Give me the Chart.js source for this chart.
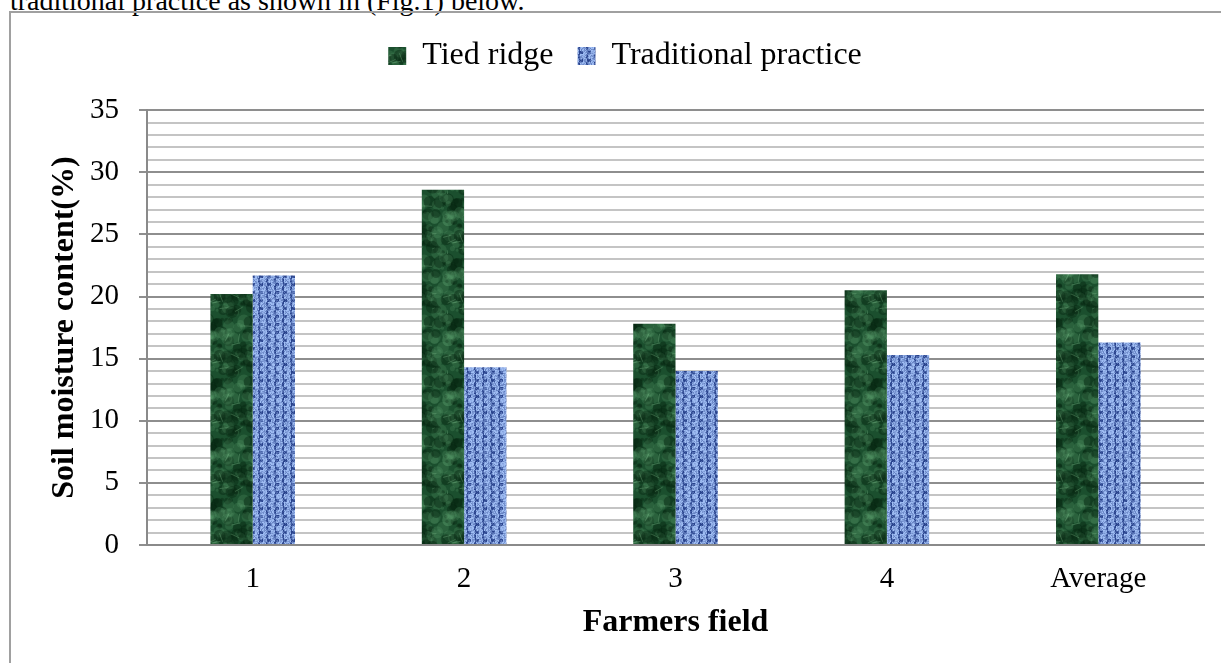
<!DOCTYPE html>
<html lang="en">
<head>
    <meta charset="UTF-8">
    <title>Soil moisture content</title>
    <script src="https://cdn.jsdelivr.net/npm/chart.js"></script>
    <style>
        body {
            margin: 0;
            background: #fff;
            overflow: hidden;
            font-family: "Liberation Serif", "Times New Roman", serif;
        }
        .lead {
            position: absolute;
            left: 10px;
            top: -13px;
            font-size: 28px;
            line-height: 28px;
            white-space: nowrap;
            color: #000;
        }
        .frame {
            position: absolute;
            left: 9px;
            top: 11px;
            width: 1212px;
            height: 652px;
            border-left: 2px solid #a0a0a0;
            border-top: 2px solid #a0a0a0;
        }
        .box {
            position: absolute;
            left: 12px;
            top: 14px;
            width: 1209px;
            height: 649px;
        }
    </style>
</head>
<body>
    <div class="lead">traditional practice as shown in (Fig.1) below.</div>
    <div class="frame"></div>
    <div class="box"><canvas id="moistureChart"></canvas></div>

    <script>
        const fields = ['1', '2', '3', '4', 'Average'];
        const tiedRidge = [20.2, 28.6, 17.8, 20.5, 21.8];
        const traditional = [21.7, 14.3, 14.0, 15.3, 16.3];
        const yTicks = [0, 5, 10, 15, 20, 25, 30, 35];

        // fixed noise for the bar textures
        function hash(n) {
            const s = Math.sin(n * 12.9898 + 78.233) * 43758.5453;
            return s - Math.floor(s);
        }

        function greenTexture(ctx) {
            const size = 60;
            const c = document.createElement('canvas');
            c.width = size; c.height = size;
            const g = c.getContext('2d');
            g.fillStyle = '#1b4f2e';
            g.fillRect(0, 0, size, size);
            for (let i = 0; i < 110; i++) {
                const x = hash(i) * size, y = hash(i + 300) * size;
                const r = 1.5 + hash(i + 600) * 5;
                const light = hash(i + 900) > 0.5;
                g.fillStyle = light ? 'rgba(95,165,115,0.22)' : 'rgba(4,36,14,0.4)';
                for (const dx of [-size, 0, size]) {
                    for (const dy of [-size, 0, size]) {
                        g.beginPath();
                        g.arc(x + dx, y + dy, r, 0, Math.PI * 2);
                        g.fill();
                    }
                }
            }
            g.strokeStyle = 'rgba(140,200,150,0.3)';
            g.lineWidth = 1;
            for (let i = 0; i < 14; i++) {
                const x = hash(i + 1200) * size, y = hash(i + 1500) * size;
                const a = hash(i + 1800) * Math.PI;
                g.beginPath();
                g.moveTo(x, y);
                g.lineTo(x + Math.cos(a) * 9, y + Math.sin(a) * 9);
                g.stroke();
            }
            return ctx.createPattern(c, 'repeat');
        }

        function blueTexture(ctx) {
            const size = 32;
            const c = document.createElement('canvas');
            c.width = size; c.height = size;
            const g = c.getContext('2d');
            const img = g.createImageData(size, size);
            for (let y = 0; y < size; y++) {
                for (let x = 0; x < size; x++) {
                    const cx = x % 8, cy = y % 8;
                    const weave = (cx < 6 && cy < 5) || (cx >= 3 && cy >= 4 && cx < 7);
                    const n = hash(x * 31 + y * 17 + 5);
                    let t = weave ? 0.8 : 0.2;
                    t = Math.min(1, Math.max(0, t + (n - 0.5) * 0.6));
                    const i = (y * size + x) * 4;
                    img.data[i] = 40 + t * (160 - 40);
                    img.data[i + 1] = 66 + t * (190 - 66);
                    img.data[i + 2] = 140 + t * (244 - 140);
                    img.data[i + 3] = 255;
                }
            }
            g.putImageData(img, 0, 0);
            return ctx.createPattern(c, 'repeat');
        }

        const serif = '"Liberation Serif", "Times New Roman", serif';
        const canvas = document.getElementById('moistureChart');
        const ctx = canvas.getContext('2d');

        new Chart(ctx, {
            type: 'bar',
            data: {
                labels: fields,
                datasets: [{
                    label: 'Tied ridge',
                    data: tiedRidge,
                    backgroundColor: greenTexture(ctx),
                    borderWidth: 0,
                }, {
                    label: 'Traditional practice',
                    data: traditional,
                    backgroundColor: blueTexture(ctx),
                    borderWidth: 0,
                }],
            },
            options: {
                responsive: true,
                maintainAspectRatio: false,
                animation: false,
                categoryPercentage: 0.4,
                barPercentage: 1.0,
                layout: { padding: { top: 2, right: 17, left: 34, bottom: 0 } },
                plugins: {
                    tooltip: { enabled: false },
                    legend: {
                        position: 'top',
                        labels: {
                            boxWidth: 18,
                            boxHeight: 18,
                            padding: 24,
                            color: '#000',
                            font: { family: serif, size: 32 },
                        },
                    },
                    // empty spacer between legend and plot
                    subtitle: {
                        display: true,
                        text: '',
                        position: 'top',
                        weight: 500,
                        font: { size: 1 },
                        padding: { top: 27, bottom: 0 },
                    },
                },
                scales: {
                    x: {
                        afterFit: (scale) => { scale.height = 118; },
                        grid: { display: false },
                        border: { display: true, color: '#8a8a8a', width: 2 },
                        ticks: {
                            color: '#000',
                            padding: 9,
                            font: { family: serif, size: 29 },
                        },
                        title: {
                            display: true,
                            text: 'Farmers field',
                            color: '#000',
                            padding: { top: 0, bottom: 21 },
                            font: { family: serif, size: 32, weight: 'bold' },
                        },
                    },
                    y: {
                        min: 0,
                        max: 35,
                        afterFit: (scale) => { scale.width = 101; },
                        afterBuildTicks: (scale) => {
                            const all = [];
                            for (let v = yTicks[0]; v <= yTicks[yTicks.length - 1]; v++) all.push({ value: v });
                            scale.ticks = all;
                        },
                        grid: {
                            color: (c) => (yTicks.includes(c.tick.value) ? '#8e8e8e' : '#c4c4c4'),
                            tickColor: (c) => (yTicks.includes(c.tick.value) ? '#8e8e8e' : 'rgba(0,0,0,0)'),
                            lineWidth: 2,
                            tickLength: 8,
                        },
                        border: { display: true, color: '#8a8a8a', width: 2 },
                        ticks: {
                            color: '#000',
                            padding: 20,
                            autoSkip: false,
                            font: { family: serif, size: 29 },
                            callback: (v) => (yTicks.includes(v) ? String(v) : ''),
                        },
                        title: {
                            display: true,
                            text: 'Soil moisture content(%)',
                            color: '#000',
                            padding: { top: 0, bottom: 0 },
                            font: { family: serif, size: 32, weight: 'bold' },
                        },
                    },
                },
            },
        });
    </script>
</body>
</html>
